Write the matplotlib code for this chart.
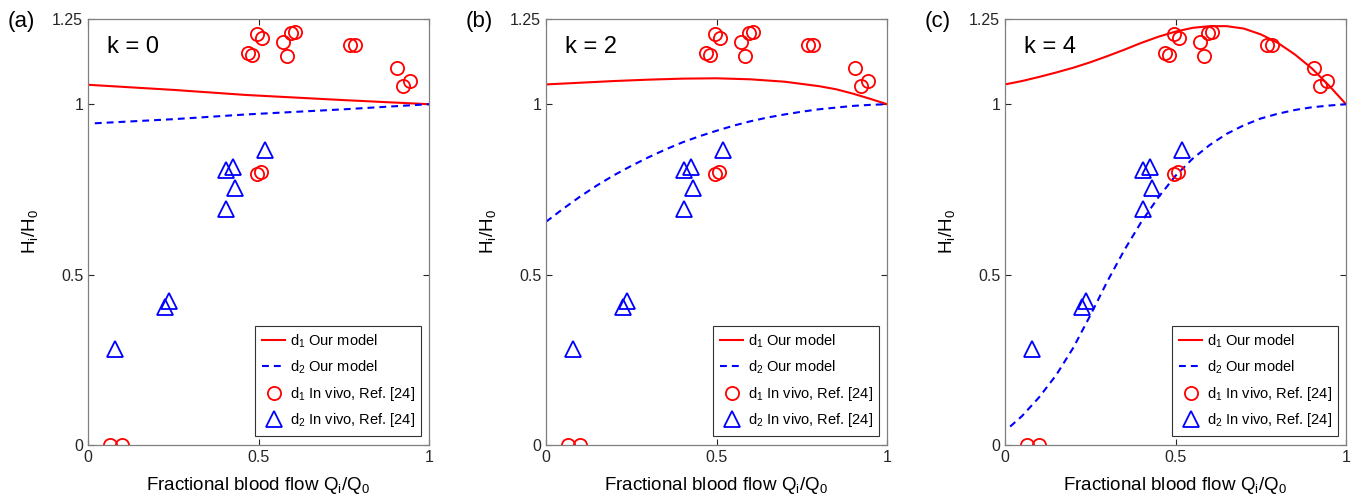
import matplotlib
matplotlib.use("Agg")
import matplotlib.pyplot as plt

plt.rcParams["font.family"] = ["Liberation Sans", "DejaVu Sans"]
plt.rcParams["mathtext.default"] = "regular"

# in vivo data (same in all panels)
d1_q = [0.468, 0.482, 0.495, 0.509, 0.572, 0.584, 0.594, 0.607, 0.767, 0.782,
        0.906, 0.923, 0.945, 0.496, 0.507, 0.064, 0.099]
d1_h = [1.149, 1.144, 1.205, 1.193, 1.183, 1.141, 1.208, 1.211, 1.173, 1.173,
        1.107, 1.053, 1.069, 0.795, 0.801, 0.0, 0.0]
d2_q = [0.520, 0.406, 0.424, 0.430, 0.405, 0.225, 0.238, 0.079]
d2_h = [0.867, 0.807, 0.817, 0.753, 0.692, 0.406, 0.423, 0.282]

# model curves, k = 0
a_q1 = [0.0, 0.25, 0.465, 0.75, 1.0]
a_h1 = [1.057, 1.042, 1.027, 1.012, 1.0]
a_q2 = [0.02, 0.25, 0.465, 0.75, 1.0]
a_h2 = [0.944, 0.956, 0.970, 0.985, 1.0]

# k = 2
b_q1 = [0.0, 0.1, 0.2, 0.3, 0.4, 0.5, 0.6, 0.7, 0.8, 0.85, 0.9, 0.95, 1.0]
b_h1 = [1.058, 1.063, 1.068, 1.072, 1.075, 1.076, 1.073, 1.066, 1.053,
        1.044, 1.031, 1.016, 1.0]
b_q2 = [0.0, 0.05, 0.1, 0.15, 0.2, 0.25, 0.3, 0.35, 0.4, 0.45, 0.5, 0.55,
        0.6, 0.65, 0.7, 0.75, 0.8, 0.85, 0.9, 0.95, 1.0]
b_h2 = [0.655, 0.693, 0.729, 0.762, 0.792, 0.819, 0.844, 0.867, 0.888, 0.906,
        0.922, 0.937, 0.950, 0.961, 0.970, 0.978, 0.985, 0.990, 0.995, 0.998,
        1.0]

# k = 4
c_q1 = [0.0, 0.05, 0.1, 0.15, 0.2, 0.25, 0.3, 0.35, 0.4, 0.45, 0.5, 0.55,
        0.6, 0.65, 0.7, 0.75, 0.8, 0.85, 0.9, 0.95, 1.0]
c_h1 = [1.058, 1.068, 1.080, 1.093, 1.107, 1.123, 1.141, 1.160, 1.180, 1.198,
        1.213, 1.224, 1.229, 1.229, 1.222, 1.205, 1.180, 1.146, 1.105, 1.055,
        1.0]
c_q2 = [0.015, 0.05, 0.1, 0.15, 0.2, 0.25, 0.3, 0.35, 0.4, 0.45, 0.5, 0.55,
        0.6, 0.65, 0.7, 0.75, 0.8, 0.85, 0.9, 0.95, 1.0]
c_h2 = [0.054, 0.085, 0.140, 0.205, 0.285, 0.380, 0.480, 0.572, 0.655, 0.727,
        0.790, 0.840, 0.880, 0.913, 0.938, 0.958, 0.972, 0.983, 0.991, 0.996,
        1.0]

panels = [
    ("(a)", "k = 0", a_q1, a_h1, a_q2, a_h2),
    ("(b)", "k = 2", b_q1, b_h1, b_q2, b_h2),
    ("(c)", "k = 4", c_q1, c_h1, c_q2, c_h2),
]
lefts = [88, 546, 1005]

fig = plt.figure(figsize=(13.64, 5.0), dpi=100)
edge = "#262626"

for (tag, ktxt, q1, h1, q2, h2), left in zip(panels, lefts):
    ax = fig.add_axes([left / 1364, 55 / 500, 341 / 1364, 426 / 500])
    ax.plot(q1, h1, "-", color="red", lw=1.5, label=r"d$_1$ Our model")
    ax.plot(q2, h2, "--", color="blue", lw=1.5, dashes=(3.3, 2.4),
            label=r"d$_2$ Our model")
    ax.plot(d1_q, d1_h, "o", ms=9.5, mfc="none", mec="red", mew=1.3,
            label=r"d$_1$ In vivo, Ref. [24]")
    ax.plot(d2_q, d2_h, "^", ms=11, mfc="none", mec="blue", mew=1.3,
            label=r"d$_2$ In vivo, Ref. [24]")

    ax.set_xlim(0, 1)
    ax.set_ylim(0, 1.25)
    ax.set_xticks([0, 0.5, 1])
    ax.set_xticklabels(["0", "0.5", "1"])
    ax.set_yticks([0, 0.5, 1, 1.25])
    ax.set_yticklabels(["0", "0.5", "1", "1.25"])
    ax.tick_params(direction="in", top=True, right=True, length=4,
                   width=0.8, labelsize=11.5, colors=edge, labelcolor=edge)
    for s in ax.spines.values():
        s.set_color("#808080")
        s.set_linewidth(0.9)

    ax.set_xlabel(r"Fractional blood flow Q$_i$/Q$_0$", fontsize=13.5)
    ax.xaxis.set_label_coords(0.5, -0.07)
    ax.set_ylabel(r"H$_i$/H$_0$", fontsize=13.5)
    ax.yaxis.set_label_coords(-0.14, 0.5)

    ax.text(0.056, 0.934, ktxt, transform=ax.transAxes, fontsize=17,
            ha="left", va="center")
    fig.text((left - 80) / 1364, 1 - 22 / 500, tag, fontsize=16,
             ha="left", va="center")

    leg = ax.legend(loc="lower right", fontsize=10.5, frameon=True,
                    fancybox=False, edgecolor="#333333", framealpha=1,
                    handlelength=1.6, handletextpad=0.3, labelspacing=0.6,
                    borderpad=0.45, borderaxespad=0,
                    bbox_to_anchor=(0.977, 0.021))
    leg.get_frame().set_linewidth(0.8)

fig.savefig("out.png", dpi=100)
